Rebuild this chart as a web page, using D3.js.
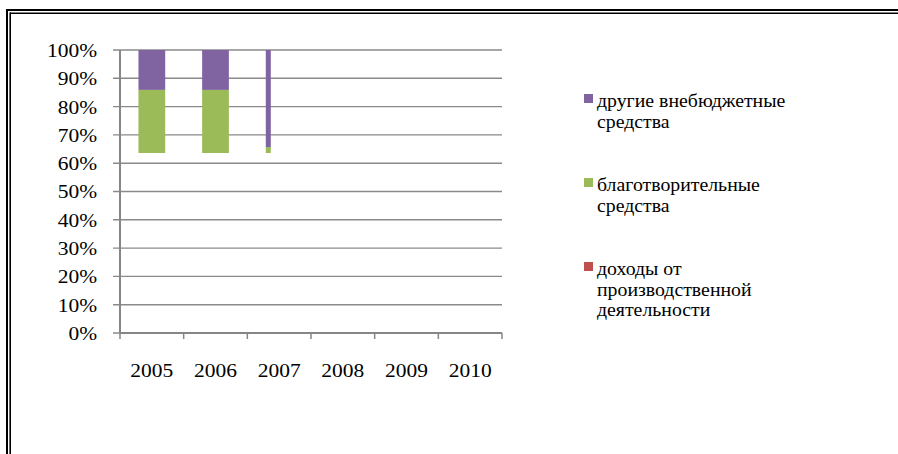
<!DOCTYPE html>
<html><head><meta charset="utf-8">
<script src="https://cdn.jsdelivr.net/npm/d3@7/dist/d3.min.js"></script>
<style>body{margin:0;background:#fff}svg{display:block}
svg text{font-family:"Liberation Serif","Times New Roman","Liberation Sans",Arial,sans-serif;}</style>
</head><body>
<script>
const years = ["2005","2006","2007","2008","2009","2010"];
// unfilled base segment (no visible series)
const baseValues = [63.6, 63.6, 63.6, 0, 0, 0];
const incomeValues = [0, 0, 0, 0, 0, 0];
const charityValues = [22.3, 22.3, 2.1, 0, 0, 0];
const otherValues = [14.1, 14.1, 34.3, 0, 0, 0];
const yTicks = [0,10,20,30,40,50,60,70,80,90,100];
const legendLines = [["другие внебюджетные","средства"],["благотворительные","средства"],["доходы от","производственной","деятельности"]];
const colors = {income:"#c0504d", charity:"#9bbb59", other:"#8064a2"};

(function(){
const W=898,H=454;
const svg=d3.select("body").append("svg").attr("width",W).attr("height",H);
const stretch=(sel,f)=>sel.each(function(){const L=this.getComputedTextLength();d3.select(this).attr("textLength",L*f).attr("lengthAdjust","spacingAndGlyphs");});

// frame (double border)
svg.append("line").attr("x1",7).attr("x2",W+5).attr("y1",10).attr("y2",10).attr("stroke","#000").attr("stroke-width",2);
svg.append("line").attr("x1",7).attr("x2",7).attr("y1",9).attr("y2",H+5).attr("stroke","#000").attr("stroke-width",2);
svg.append("line").attr("x1",10).attr("x2",W+5).attr("y1",13.2).attr("y2",13.2).attr("stroke","#000").attr("stroke-width",1.6);
svg.append("line").attr("x1",10.2).attr("x2",10.2).attr("y1",12.5).attr("y2",H+5).attr("stroke","#000").attr("stroke-width",1.6);

const pl=120,pr=502,pt=50,pb=333;
const x=d3.scaleBand().domain(years).range([pl,pr]).paddingInner(0).paddingOuter(0);
const y=d3.scaleLinear().domain([0,100]).range([pb,pt]);

// gridlines
svg.append("g").selectAll("line").data(yTicks).join("line")
  .attr("x1",pl-7).attr("x2",pr).attr("y1",d=>y(d)).attr("y2",d=>y(d))
  .attr("stroke","#8a8a8a").attr("stroke-width",1.4);

// stacked bars
const rows = years.map((yr,i)=>({year:yr, base:baseValues[i], income:incomeValues[i], charity:charityValues[i], other:otherValues[i]}));
const stack=d3.stack().keys(["base","income","charity","other"])(rows);
const bw = x.bandwidth()*0.42;
const wOf = d => d.data.year==="2007" ? 5 : bw;
stack.forEach(layer=>{
  if(layer.key==="base") return;
  svg.append("g").selectAll("rect").data(layer).join("rect")
    .attr("x",d=>x(d.data.year)+x.bandwidth()/2-bw/2)
    .attr("width",wOf)
    .attr("y",d=>y(d[1])).attr("height",d=>Math.max(0,y(d[0])-y(d[1])))
    .attr("fill",colors[layer.key]);
});

// y axis
const yAxis=d3.axisLeft(y).tickValues(yTicks).tickFormat(d=>d+"%").tickSize(0).tickPadding(23);
const gy=svg.append("g").attr("transform",`translate(${pl},0)`).call(yAxis);
gy.select(".domain").remove();
gy.attr("font-family",null);
gy.selectAll("text").attr("font-size",19).attr("fill","#000").attr("dy","0.34em");
stretch(gy.selectAll("text"),1.13);
svg.append("line").attr("x1",pl).attr("x2",pl).attr("y1",pt).attr("y2",pb).attr("stroke","#868686").attr("stroke-width",2);

// x axis
const gx=svg.append("g").attr("transform",`translate(0,${pb})`);
gx.append("line").attr("x1",pl).attr("x2",pr).attr("stroke","#868686").attr("stroke-width",2);
const tickXs=years.map(d=>x(d)).concat([pr]);
gx.selectAll("line.t").data(tickXs).join("line").attr("class","t")
  .attr("x1",d=>d).attr("x2",d=>d).attr("y1",0).attr("y2",6).attr("stroke","#868686").attr("stroke-width",1.5);
const xt=gx.selectAll("text").data(years).join("text")
  .attr("x",d=>x(d)+x.bandwidth()/2).attr("y",44).attr("text-anchor","middle")
  .attr("font-size",19).attr("fill","#000").text(d=>d);
stretch(xt,1.13);

// legend
const legColors=[colors.other,colors.charity,colors.income];
const lg=svg.append("g");
legendLines.forEach((lines,i)=>{
  const by=107+i*84;
  lg.append("rect").attr("x",584).attr("y",by-13).attr("width",9).attr("height",9).attr("fill",legColors[i]);
  lines.forEach((t,j)=>{
    const el=lg.append("text").attr("x",597).attr("y",by+j*20.5)
      .attr("font-size",18).attr("fill","#000").text(t);
    stretch(el,1.1);
  });
});
})();
</script>
</body></html>
